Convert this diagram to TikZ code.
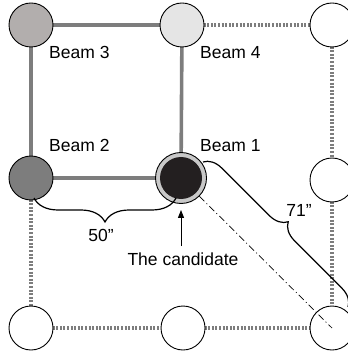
\documentclass[tikz,border=0pt]{standalone}
\usepackage{fontspec}
\setmainfont{Liberation Sans}
\usetikzlibrary{decorations.pathreplacing,arrows.meta}
\definecolor{beamthree}{RGB}{178,174,173}
\definecolor{beamfour}{RGB}{229,229,229}
\definecolor{beamtwo}{RGB}{125,125,125}
\definecolor{ringgray}{RGB}{200,200,200}
\definecolor{candblack}{RGB}{35,31,32}
\definecolor{linegray}{RGB}{125,125,125}
\begin{document}
\begin{tikzpicture}[x=1pt,y=-1pt,
  post/.style={circle,draw=black,line width=0.9pt,minimum size=44pt,inner sep=0pt,fill=white},
  beamline/.style={draw=linegray,line width=3.6pt},
  dotline/.style={draw=linegray,line width=3.4pt,dash pattern=on 2pt off 1.6pt},
  lbl/.style={font=\fontsize{17.5}{20}\selectfont,inner sep=0pt},
  brc/.style={decorate,decoration={brace,amplitude=#1},line width=1.2pt},
  dashdotline/.style={draw=black,line width=0.7pt,dash pattern=on 7pt off 3pt on 1pt off 3pt},
]
\useasboundingbox (0,0) rectangle (347,352);

% grid points
\coordinate (ptl) at (31,25);
\coordinate (ptm) at (182,25);
\coordinate (ptr) at (332,25);
\coordinate (pml) at (31,178);
\coordinate (pc) at (181,178);
\coordinate (pmr) at (332,180);
\coordinate (pbl) at (31,328);
\coordinate (pbm) at (183,328);
\coordinate (pbr) at (332,328);

% beams and grid lines
\draw[beamline] (ptl) -- (ptm);
\draw[beamline] (ptl) -- (pml);
\draw[beamline] (ptm) -- (pc);
\draw[beamline] (pml) -- (pc);
\draw[dotline] (ptm) -- (ptr);
\draw[dotline] (ptr) -- (pmr);
\draw[dotline] (pmr) -- (pbr);
\draw[dotline] (pml) -- (pbl);
\draw[dotline] (pbl) -- (pbm);
\draw[dotline] (pbm) -- (pbr);

% columns and piles
\node[post,fill=beamthree] (tl) at (ptl) {};
\node[post,fill=beamfour] (tm) at (ptm) {};
\node[post] (tr) at (ptr) {};
\node[post,fill=beamtwo] (ml) at (pml) {};
\node[circle,draw=black,line width=0.9pt,fill=ringgray,minimum size=51pt,inner sep=0pt] (cand) at (pc) {};
\node[circle,fill=candblack,minimum size=42pt,inner sep=0pt] (candcore) at (cand.center) {};
\node[post] (mr) at (pmr) {};
\node[post] (bl) at (pbl) {};
\node[post] (bm) at (pbm) {};
\node[post] (br) at (pbr) {};

% diagonal reference line
\draw[dashdotline] (cand) -- (br.center);

% labels
\node[lbl,anchor=base west] (b3) at (49,58.3) {Beam 3};
\node[lbl,anchor=base west] (b4) at (200,58.3) {Beam 4};
\node[lbl,anchor=base west] (b2) at (49,151.7) {Beam 2};
\node[lbl,anchor=base west] (b1) at (200,151.7) {Beam 1};

% dimension braces
\coordinate (hbA) at (176,198);
\coordinate (hbB) at (34,198);
\draw[brc=24] (hbA) -- (hbB);
\node[lbl,anchor=base] (d50) at (101,241.7) {50”};

\coordinate (dbA) at (203,162);
\coordinate (dbB) at (348,307);
\draw[brc=18] (dbA) -- (dbB);
\node[lbl,anchor=base] (d71) at (299,216) {71”};

% candidate marker
\node[lbl,anchor=base] (candtxt) at (183,265) {The candidate};
\draw[line width=1pt,-{Triangle[length=8pt,width=6pt]},shorten <=6pt,shorten >=6pt] (candtxt.north -| cand) -- (cand.south);
\end{tikzpicture}
\end{document}
